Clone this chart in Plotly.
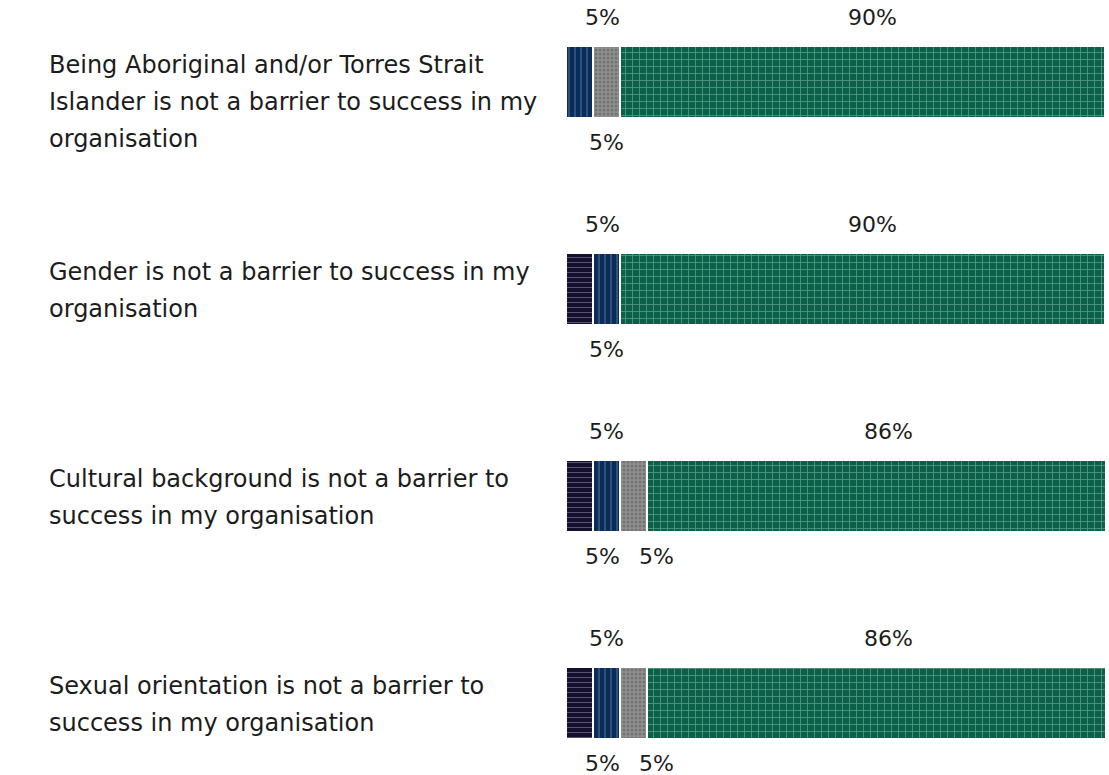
import plotly.graph_objects as go

# ---------------- data ----------------
category_lines = [
    ["Being Aboriginal and/or Torres Strait",
     "Islander is not a barrier to success in my",
     "organisation"],
    ["Gender is not a barrier to success in my", "organisation"],
    ["Cultural background is not a barrier to", "success in my organisation"],
    ["Sexual orientation is not a barrier to", "success in my organisation"],
]
series_names = ["Strongly disagree", "Disagree", "Neither agree nor disagree", "Agree"]
strongly_disagree = [0, 5, 5, 5]
disagree = [5, 5, 5, 5]
neither = [5, 0, 5, 5]
agree = [90, 90, 86, 86]

series_values = [strongly_disagree, disagree, neither, agree]

# ---------------- style ----------------
W, H = 1109, 775
ML = 566
MR = 4
PLOT_W = W - ML - MR
PX_PER_UNIT = PLOT_W / 100.0
FONT = "DejaVu Sans"
TEXT_COLOR = "#1c1c1c"

styles = [
    dict(bg="#15112d", fg="#9a96b8", shape="-", size=5, solidity=0.2),
    dict(bg="#0a2c58", fg="#8aa6cc", shape="|", size=6, solidity=0.2),
    dict(bg="#909090", fg="#555555", shape=".", size=4, solidity=0.45),
    dict(bg="#0b604a", fg="#9fd0bc", shape="+", size=7, solidity=0.22),
]

ypos = list(range(len(category_lines)))

fig = go.Figure()
for name, vals, st in zip(series_names, series_values, styles):
    fig.add_trace(go.Bar(
        name=name, y=ypos, x=vals, orientation="h", width=0.35,
        marker=dict(
            color=st["bg"],
            line=dict(color="white", width=1.5),
            pattern=dict(shape=st["shape"], fgcolor=st["fg"], bgcolor=st["bg"],
                         size=st["size"], solidity=st["solidity"], fillmode="overlay"),
        ),
        hoverinfo="skip", showlegend=False,
    ))

annotations = []
# value labels: alternate above/below starting from the last segment (above)
LABEL_W = 36
for i in ypos:
    segs = []
    cum = 0
    for vals in series_values:
        v = vals[i]
        if v > 0:
            segs.append((cum + v / 2.0, v))
        cum += v
    rows = {}
    for k, (center, v) in enumerate(reversed(segs)):
        row = "above" if k % 2 == 0 else "below"
        rows.setdefault(row, []).append((center, v))
    for row, items in rows.items():
        items.sort()
        prev_px = None
        for center, v in items:
            px = center * PX_PER_UNIT
            px = max(px, LABEL_W)
            if prev_px is not None:
                px = max(px, prev_px + LABEL_W + 18)
            if v > 50:
                px += 10
            prev_px = px
            annotations.append(dict(
                x=center, y=i, xref="x", yref="y",
                text=f"{v}%", showarrow=False,
                xshift=px - center * PX_PER_UNIT,
                yshift=65 if row == "above" else -60,
                font=dict(family=FONT, size=22, color=TEXT_COLOR),
                xanchor="center", yanchor="middle", borderpad=0,
            ))

# category labels, left aligned, one annotation per line
TEXT_LEFT = 47
for i, lines in enumerate(category_lines):
    for k, line in enumerate(lines):
        annotations.append(dict(
            x=(TEXT_LEFT - ML) / PLOT_W, xref="paper", y=i, yref="y",
            text=line, showarrow=False, xanchor="left", yanchor="middle",
            yshift=17 - 37 * k,
            font=dict(family=FONT, size=24, color=TEXT_COLOR),
        ))

SPACING = 207.0
y_top = -82 / SPACING
y_bot = y_top + H / SPACING
fig.update_layout(
    width=W, height=H,
    margin=dict(l=ML, r=MR, t=0, b=0),
    barmode="stack",
    paper_bgcolor="white", plot_bgcolor="white",
    xaxis=dict(range=[0, 100], visible=False, fixedrange=True),
    yaxis=dict(range=[y_bot, y_top], visible=False, fixedrange=True),
    annotations=annotations,
    showlegend=False,
)

fig.write_html("out.html", config={"displayModeBar": False},
               post_script="document.body.style.margin='0px';document.body.style.overflow='hidden';")
